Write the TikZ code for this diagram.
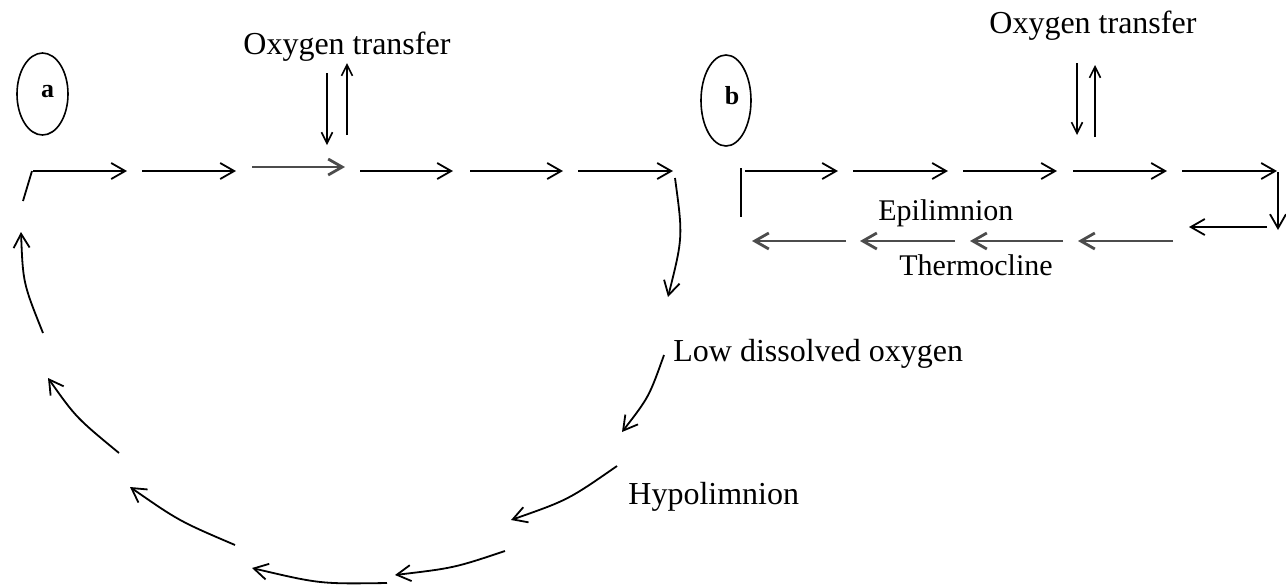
\documentclass[tikz,border=0pt]{standalone}
\usepackage{fontspec}
\setmainfont{Liberation Serif}
\usetikzlibrary{arrows.meta,shapes.geometric}

\begin{document}
\begin{tikzpicture}[x=0.5pt, y=-0.5pt, >={Straight Barb[length=7pt,width=8pt]},
	flow/.style={->, line width=0.9pt},
	heavy/.style={->, line width=1.4pt, draw=black!70},
	xfer/.style={-{Straight Barb[length=5.5pt,width=5.5pt]}, line width=0.8pt},
	ring/.style={draw, ellipse, line width=0.8pt, inner sep=0pt},
	tag/.style={font=\fontsize{13}{15}\selectfont\bfseries, inner sep=0pt},
	lbl/.style={font=\fontsize{16}{19}\selectfont, inner sep=0pt, anchor=base west},
	layer/.style={font=\fontsize{15}{18}\selectfont, inner sep=0pt, anchor=base west}]
	\useasboundingbox (0,0) rectangle (1286,586);

	% Метки a и b
	\node[ring, minimum width=25.5pt, minimum height=41pt] (ringA) at (42.5,94) {};
	\node[tag] (tagA) at (47.5,92) {a};
	\node[ring, minimum width=25pt, minimum height=45.5pt] (ringB) at (726,100.5) {};
	\node[tag] (tagB) at (732,96) {b};

	% Подписи
	\node[lbl] (oxA) at (243,54) {Oxygen transfer};
	\node[lbl] (oxB) at (989,33) {Oxygen transfer};
	\node[lbl] (lowDO) at (673,361) {Low dissolved oxygen};
	\node[lbl] (hypo) at (628,504) {Hypolimnion};
	\node[layer] (epi) at (878,220) {Epilimnion};
	\node[layer] (thermo) at (899,275) {Thermocline};

	% a: верхний ряд
	\draw[line width=0.9pt] (32,171) -- (23,201);
	\draw[flow] (33,171) -- (127,171);
	\draw[flow] (142,171) -- (236,171);
	\draw[heavy] (252,167) -- (345,167);
	\draw[flow] (360,171) -- (453,171);
	\draw[flow] (470,171) -- (563,171);
	\draw[flow] (578,171) -- (673,171);
	\draw[xfer] (327,73) -- (327,145);
	\draw[xfer] (347,135) -- (347,63);

	% a: круг вниз и обратно
	\draw[flow] (675,178) .. controls (683,237) .. (668,297);
	\draw[flow] (664,355) .. controls (649,397) .. (622,432);
	\draw[flow] (617,466) .. controls (568,500) .. (511,520);
	\draw[flow] (505,551) .. controls (454,568) .. (395,575);
	\draw[flow] (387,583) .. controls (320,584) .. (252,568);
	\draw[flow] (235,545) .. controls (179,521) .. (130,487);
	\draw[flow] (119,453) .. controls (76,417.5) .. (48,378);
	\draw[flow] (43,333) .. controls (23,283) .. (21,232);

	% b: эпилимнион
	\draw[line width=0.9pt] (741,168) -- (741,217);
	\draw[flow] (745,171) -- (838,171);
	\draw[flow] (853,171) -- (948,171);
	\draw[flow] (963,171) -- (1057,171);
	\draw[flow] (1073,171) -- (1167,171);
	\draw[flow] (1182,171) -- (1277,171);
	\draw[flow] (1278,172) -- (1278,230);
	\draw[flow] (1267,227) -- (1189,227);
	\draw[xfer] (1077,63) -- (1077,135);
	\draw[xfer] (1095,137) -- (1095,65);

	% b: над термоклином
	\draw[heavy] (1173,241) -- (1078,241);
	\draw[heavy] (1063,241) -- (970,241);
	\draw[heavy] (955,241) -- (860,241);
	\draw[heavy] (846,241) -- (752,241);
\end{tikzpicture}
\end{document}
